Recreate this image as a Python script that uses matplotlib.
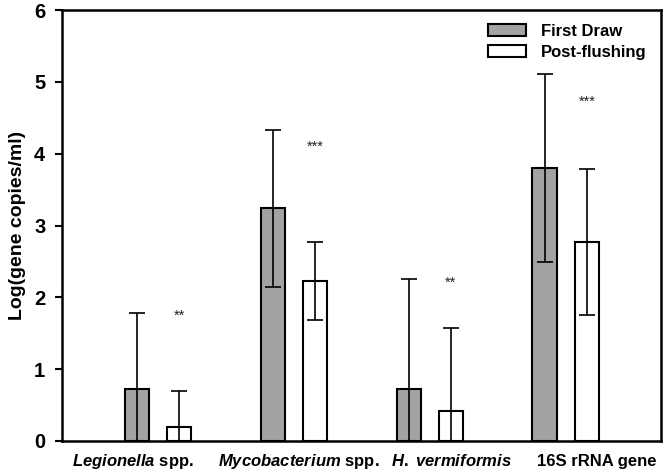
import matplotlib
matplotlib.use("Agg")
import matplotlib.pyplot as plt
import matplotlib.transforms as mtransforms
import numpy as np

plt.rcParams["font.family"] = ["Liberation Sans", "DejaVu Sans"]
plt.rcParams["mathtext.fontset"] = "custom"
plt.rcParams["mathtext.it"] = "Liberation Sans:italic:bold"
plt.rcParams["mathtext.rm"] = "Liberation Sans:bold"

categories = [r"$\mathit{Legionella}$ spp.", r"$\mathit{Mycobacterium}$ spp.",
              r"$\mathit{H.}$ $\mathit{vermiformis}$", "16S rRNA gene"]
first_draw = [0.73, 3.24, 0.72, 3.80]
first_err = [1.05, 1.09, 1.53, 1.31]
post_flush = [0.19, 2.23, 0.42, 2.77]
post_err = [0.50, 0.54, 1.15, 1.01]
stars = ["**", "***", "**", "***"]
star_y = [1.75, 4.10, 2.20, 4.72]

fig = plt.figure(figsize=(6.66, 4.72), dpi=100)
ax = fig.add_axes([62 / 666, 31 / 472, 599 / 666, 431 / 472])

x = np.arange(len(categories))
w = 0.18
off = 0.155
ekw = dict(elinewidth=1.2, capthick=1.2, ecolor="black")
ax.bar(x - off, first_draw, w, yerr=first_err, color="#a3a3a3", edgecolor="black",
       linewidth=1.5, capsize=6, error_kw=ekw, label="First Draw")
ax.bar(x + off, post_flush, w, yerr=post_err, color="white", edgecolor="black",
       linewidth=1.5, capsize=6, error_kw=ekw, label="Post-flushing")

for xi, s, sy in zip(x, stars, star_y):
    ax.text(xi + off, sy, s, ha="center", va="center", fontsize=10.5, color="#222222")

ax.set_xlim(-0.705, 3.70)
ax.set_ylim(0, 6)
ax.set_yticks(range(7))
ax.set_xticks([])

# category labels sit slightly off the group centres in the original
label_x = [-0.18, 1.035, 2.16, 3.23]
trans = mtransforms.blended_transform_factory(ax.transData, ax.transAxes)
for lx, lab in zip(label_x, categories):
    ax.text(lx, -0.047, lab, transform=trans, ha="center", va="center",
            fontsize=12, fontweight="bold")

ax.tick_params(axis="y", direction="out", length=5, width=1.5, labelsize=14.5, pad=7)
for lab in ax.get_yticklabels():
    lab.set_fontweight("bold")
for sp in ax.spines.values():
    sp.set_linewidth(1.8)
ax.set_ylabel("Log(gene copies/ml)", fontsize=14, fontweight="bold", labelpad=6)

ax.legend(loc="upper right", frameon=False,
          prop={"weight": "bold", "size": 12}, handlelength=2.3,
          handleheight=0.75, handletextpad=0.9, borderaxespad=0.45,
          labelspacing=0.35)

fig.savefig("out.png", dpi=100)
